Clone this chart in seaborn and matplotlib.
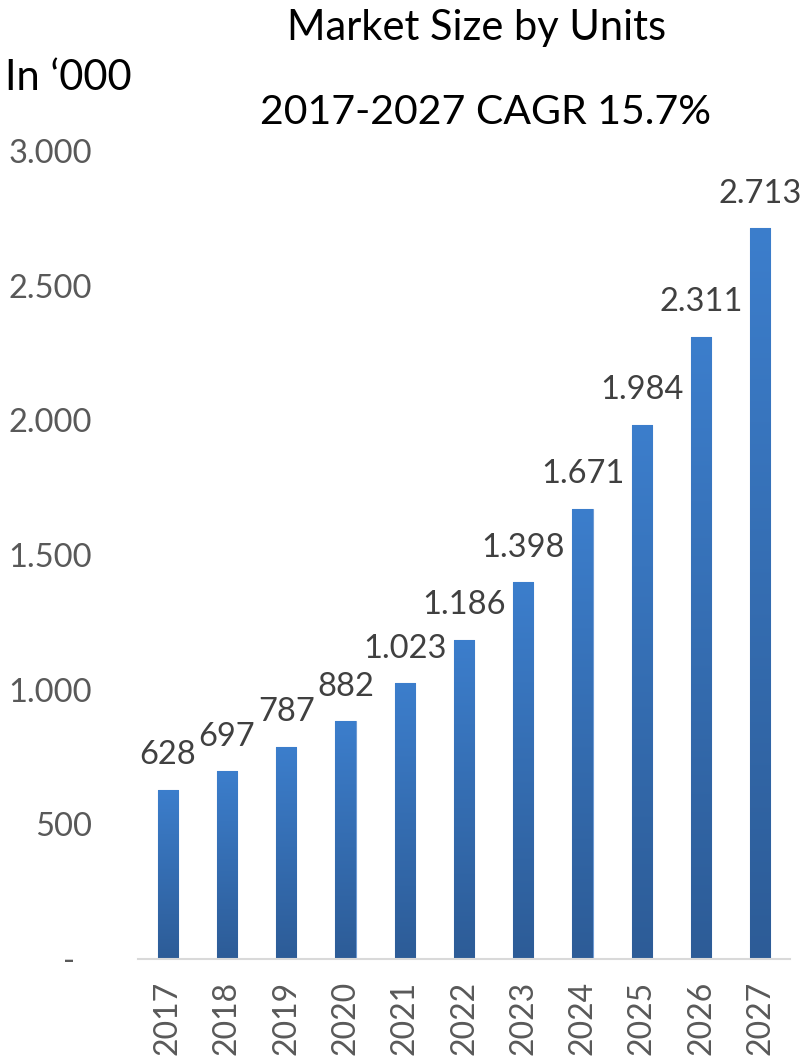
import numpy as np
import pandas as pd
import seaborn as sns
import matplotlib.pyplot as plt
from matplotlib.colors import LinearSegmentedColormap

years = ["2017", "2018", "2019", "2020", "2021", "2022", "2023", "2024", "2025", "2026", "2027"]
units = [628, 697, 787, 882, 1023, 1186, 1398, 1671, 1984, 2311, 2713]
value_labels = ["628", "697", "787", "882", "1.023", "1.186", "1.398", "1.671", "1.984", "2.311", "2.713"]
ytick_values = [0, 500, 1000, 1500, 2000, 2500, 3000]
ytick_labels = ["-\u00a0\u00a0", "500", "1.000", "1.500", "2.000", "2.500", "3.000"]

title_line1 = "Market Size by Units"
title_line2 = "2017-2027 CAGR 15.7%"
unit_note = "In \u2018000"

sns.set_theme(style="white")
plt.rcParams['font.family'] = ['Lato', 'DejaVu Sans']

W, H = 808, 1059
fig = plt.figure(figsize=(W / 100, H / 100), dpi=100)
ax = fig.add_axes([138 / W, 100 / H, 652 / W, 808 / H])

df = pd.DataFrame({"year": years, "units": units})
sns.barplot(data=df, x="year", y="units", color="#3a78c2", width=0.34,
            saturation=1, ax=ax, edgecolor="#6f9bd3", linewidth=0.8)

cmap = LinearSegmentedColormap.from_list("bar", ["#2d5c97", "#3c7ecc"])
grad = np.linspace(0, 1, 256).reshape(-1, 1)
for p in list(ax.patches):
    x0, y0 = p.get_x(), p.get_y()
    w, h = p.get_width(), p.get_height()
    im = ax.imshow(grad, extent=[x0, x0 + w, y0, y0 + h], origin="lower",
                   aspect="auto", cmap=cmap, zorder=p.get_zorder() + 0.1)
    im.set_clip_path(p)

for i, (v, lab) in enumerate(zip(units, value_labels)):
    ax.annotate(lab, xy=(i, v), xytext=(0, 25), textcoords="offset points",
                ha="center", va="center", fontsize=23.5, color="#404040")

ax.set_xlim(-0.5, len(years) - 0.5)
ax.set_ylim(0, 3000)
ax.set_yticks(ytick_values)
ax.set_yticklabels(ytick_labels)
ax.set_xticks(range(len(years)))
ax.set_xticklabels(years, rotation=90)
ax.tick_params(axis="y", length=0, pad=33, labelsize=23.5, labelcolor="#595959")
ax.tick_params(axis="x", length=0, pad=16, labelsize=23, labelcolor="#595959")
ax.set_xlabel("")
ax.set_ylabel("")
for s in ["top", "right", "left"]:
    ax.spines[s].set_visible(False)
ax.spines["bottom"].set_color("#d9d9d9")
ax.spines["bottom"].set_linewidth(1.5)
ax.grid(False)

fig.text(477 / W, 1 - 28 / H, title_line1, ha="center", va="center", fontsize=30, color="black")
fig.text(485 / W, 1 - 113 / H, title_line2, ha="center", va="center", fontsize=29.5, color="black")
fig.text(5 / W, 1 - 78 / H, unit_note, ha="left", va="center", fontsize=30, color="black")

fig.savefig("out.png", dpi=100)
